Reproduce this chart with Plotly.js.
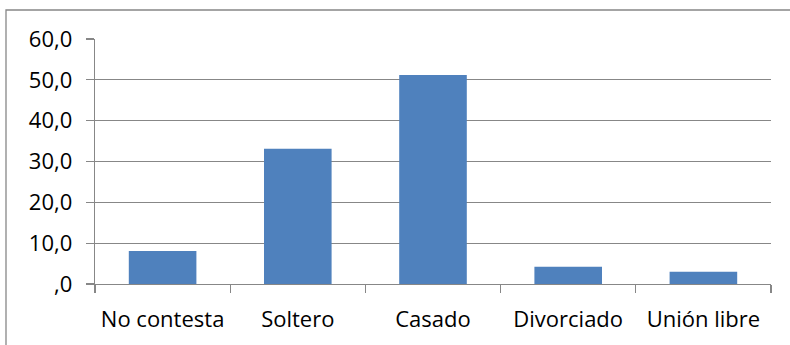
<!DOCTYPE html>
<html>
<head>
<meta charset="utf-8">
<script src="https://cdn.plot.ly/plotly-3.0.1.min.js"></script>
<style>
  html, body { margin: 0; padding: 0; background: #fff; }
  #chart { width: 790px; height: 345px; }
</style>
</head>
<body>
<div id="chart"></div>
<script>
// Estado civil (%)
const categories = ['No contesta', 'Soltero', 'Casado', 'Divorciado', 'Unión libre'];
const values = [8.1, 33.1, 51.2, 4.2, 3.0];
const yTickVals = [0, 10, 20, 30, 40, 50, 60];
const yTickText = [',0', '10,0', '20,0', '30,0', '40,0', '50,0', '60,0'];

const W = 790, H = 345;
const M = { l: 95, r: 19, t: 39, b: 61 };
const plotW = W - M.l - M.r;
const plotH = H - M.t - M.b;
const px2x = p => (p - M.l) / plotW;
const px2y = p => (H - M.b - p) / plotH;

const gridColor = '#878787';
const font = { family: 'Open Sans, sans-serif', size: 22, color: '#000' };

const trace = {
  type: 'bar',
  x: categories,
  y: values,
  marker: { color: '#4F81BD', line: { width: 0 } },
  hoverinfo: 'x+y'
};

const layout = {
  width: W,
  height: H,
  margin: M,
  paper_bgcolor: '#fff',
  plot_bgcolor: '#fff',
  showlegend: false,
  bargap: 0.5,
  font: font,
  xaxis: {
    type: 'category',
    showgrid: false,
    showline: true,
    linecolor: gridColor,
    linewidth: 1.3,
    ticks: 'outside',
    tickson: 'boundaries',
    ticklen: 8,
    tickcolor: gridColor,
    tickwidth: 1.3,
    ticklabelstandoff: 15,
    tickfont: font,
    zeroline: false
  },
  yaxis: {
    range: [0, 60],
    tickvals: yTickVals,
    ticktext: yTickText,
    showgrid: true,
    gridcolor: gridColor,
    gridwidth: 1.3,
    showline: true,
    linecolor: gridColor,
    linewidth: 1.3,
    ticks: 'outside',
    ticklen: 8,
    tickcolor: gridColor,
    tickwidth: 1.3,
    ticklabelstandoff: 9,
    tickfont: font,
    zeroline: false
  },
  shapes: [{
    type: 'rect',
    xref: 'paper', yref: 'paper',
    x0: px2x(6), x1: px2x(W + 20),
    y0: px2y(H + 20), y1: px2y(10),
    line: { color: gridColor, width: 1.3 },
    fillcolor: 'rgba(0,0,0,0)',
    layer: 'above'
  }]
};

Plotly.newPlot('chart', [trace], layout, { staticPlot: true, displayModeBar: false });
</script>
</body>
</html>
